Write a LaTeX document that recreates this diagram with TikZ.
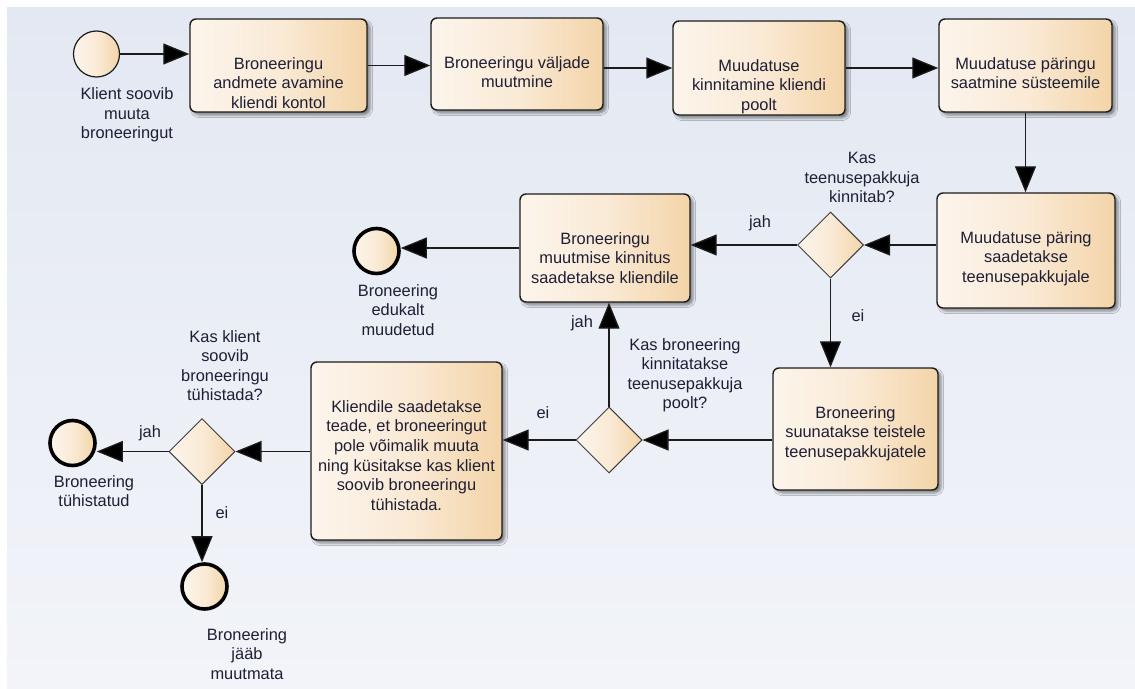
\documentclass[tikz,border=0pt]{standalone}
\usepackage{fontspec}
\setmainfont{Liberation Sans}
\usetikzlibrary{arrows.meta,shapes.geometric,shadows.blur}

\definecolor{bgtop}{HTML}{E3E8F2}
\definecolor{bgbot}{HTML}{F2F4F9}
\definecolor{fillL}{HTML}{FCF5EC}
\definecolor{fillM}{HTML}{FAEAD6}
\definecolor{fillR}{HTML}{F3D4A8}
\definecolor{ink}{HTML}{1E1E34}
\definecolor{edgecol}{HTML}{1C1C1C}

\tikzset{
  txt/.style={font=\fontsize{16.4}{19.6}\selectfont, text=ink, align=center, inner sep=0pt},
  warm/.style={left color=fillL, right color=fillR, middle color=fillM},
  task/.style={draw=edgecol, line width=1.4pt, rounded corners=6pt,
    warm, inner sep=0pt,
    blur shadow={shadow xshift=3pt, shadow yshift=-3pt, shadow blur radius=2.5pt, shadow opacity=45}},
  gate/.style={diamond, aspect=1, draw=edgecol!85, line width=1pt,
    warm, minimum width=66pt, minimum height=66pt, inner sep=0pt},
  startev/.style={circle, draw=edgecol, line width=1.2pt,
    warm, minimum size=46pt, inner sep=0pt},
  endev/.style={circle, draw=black, line width=3.6pt,
    warm, minimum size=45pt, inner sep=0pt},
  flow/.style={draw=edgecol, line width=1.3pt, -{Triangle[length=26pt,width=21pt,fill=black]}},
}

\begin{document}
\begin{tikzpicture}[x=1pt,y=-1pt]
  % canvas
  \fill[white] (0,0) rectangle (1135,688);
  \useasboundingbox (0,0) rectangle (1135,688);
  \shade[top color=bgtop, bottom color=bgbot] (7,7) rectangle (1135,688);

  % events
  \node[startev] (s) at (96.5,54) {};
  \node[txt, anchor=north] (sl) at (127,87.5) {Klient soovib\\muuta\\broneeringut};

  \node[endev] (e1) at (376.5,251) {};
  \node[txt, anchor=north] (e1l) at (398,284) {Broneering\\edukalt\\muudetud};

  \node[endev] (e2) at (72.5,443) {};
  \node[txt, anchor=north] (e2l) at (94,475) {Broneering\\tühistatud};

  \node[endev] (e3) at (204.5,586.5) {};
  \node[txt, anchor=north] (e3l) at (247,628) {Broneering\\jääb\\muutmata};

  % tasks
  \node[task, minimum width=177pt, minimum height=93pt] (b1) at (278.5,65.5) {};
  \node[txt, anchor=north] (t1) at ([yshift=-39pt]b1.north) {Broneeringu\\andmete avamine\\kliendi kontol};

  \node[task, minimum width=172pt, minimum height=92pt] (b2) at (517,64) {};
  \node[txt, anchor=north] (t2) at ([yshift=-39pt]b2.north) {Broneeringu väljade\\muutmine};

  \node[task, minimum width=172pt, minimum height=94pt] (b3) at (759,68) {};
  \node[txt, anchor=north] (t3) at ([yshift=-39pt]b3.north) {Muudatuse\\kinnitamine kliendi\\poolt};

  \node[task, minimum width=173pt, minimum height=93pt] (b4) at (1025.5,65.5) {};
  \node[txt, anchor=north] (t4) at ([yshift=-39pt]b4.north) {Muudatuse päringu\\saatmine süsteemile};

  \node[task, minimum width=178pt, minimum height=115pt] (b5) at (1026,250.5) {};
  \node[txt, anchor=north] (t5) at ([yshift=-39pt]b5.north) {Muudatuse päring\\saadetakse\\teenusepakkujale};

  \node[task, minimum width=170pt, minimum height=108pt] (b6) at (605,248) {};
  \node[txt, anchor=north] (t6) at ([yshift=-39pt]b6.north) {Broneeringu\\muutmise kinnitus\\saadetakse kliendile};

  \node[task, minimum width=165pt, minimum height=122pt] (b7) at (855.5,429) {};
  \node[txt, anchor=north] (t7) at ([yshift=-39pt]b7.north) {Broneering\\suunatakse teistele\\teenusepakkujatele};

  \node[task, minimum width=191pt, minimum height=178pt] (b8) at (406.5,451) {};
  \node[txt, anchor=north] (t8) at ([yshift=-39pt]b8.north) {Kliendile saadetakse\\teade, et broneeringut\\pole võimalik muuta\\ning küsitakse kas klient\\soovib broneeringu\\tühistada.};

  % gateways
  \node[gate] (g1) at (830.5,245) {};
  \node[txt, anchor=north] (g1l) at (862,152) {Kas\\teenusepakkuja\\kinnitab?};

  \node[gate] (g2) at (609,440) {};
  \node[txt, anchor=north] (g2l) at (685,338) {Kas broneering\\kinnitatakse\\teenusepakkuja\\poolt?};

  \node[gate] (g3) at (202,451.5) {};
  \node[txt, anchor=north] (g3l) at (225,330) {Kas klient\\soovib\\broneeringu\\tühistada?};

  % sequence flows
  \draw[flow] (s.east) -- (s.east -| b1.west);
  \draw[flow] (b1.east) -- (b1.east -| b2.west);
  \draw[flow] (b3.west -| b2.east) -- (b3.west);
  \draw[flow] (b3.east) -- (b3.east -| b4.west);
  \draw[flow] (b4.south) -- (b4.south |- b5.north);
  \draw[flow] (b5.west |- g1.east) -- (g1.east);
  \draw[flow] (g1.west) -- (g1.west -| b6.east);
  \draw[flow] (b6.west) -- (b6.west -| e1.east);
  \draw[flow] (g1.south) -- (g1.south |- b7.north);
  \draw[flow] (b7.west |- g2.east) -- (g2.east);
  \draw[flow] (g2.north) -- (g2.north |- b6.south);
  \draw[flow] (g2.west) -- (g2.west -| b8.east);
  \draw[flow] (b8.west |- g3.east) -- (g3.east);
  \draw[flow] (g3.west) -- (g3.west -| e2.east);
  \draw[flow] (g3.south) -- (g3.south |- e3.north);

  % flow labels
  \node[txt] (l1) at (760,223) {jah};
  \node[txt] (l2) at (858,316) {ei};
  \node[txt] (l3) at (582,323) {jah};
  \node[txt] (l4) at (543,413) {ei};
  \node[txt] (l5) at (150,433) {jah};
  \node[txt] (l6) at (222,513) {ei};
\end{tikzpicture}
\end{document}
